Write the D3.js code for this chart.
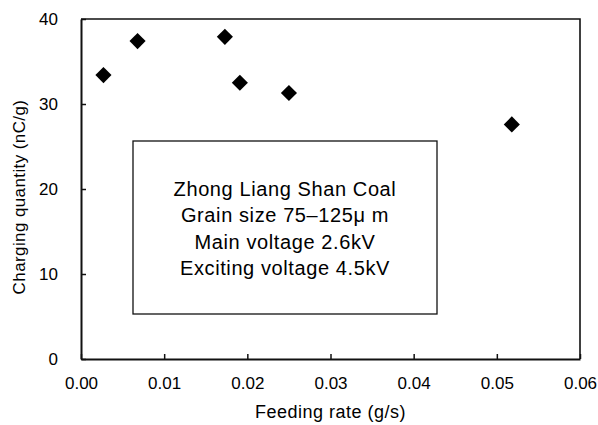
<!DOCTYPE html>
<html>
<head>
<meta charset="utf-8">
<script src="https://cdn.jsdelivr.net/npm/d3@7"></script>
<style>
  html, body { margin: 0; padding: 0; background: #fff; }
  svg { display: block; }
  text { font-family: "Liberation Sans", Arial, sans-serif; fill: #000; }
</style>
</head>
<body>
<svg id="chart" width="598" height="425"></svg>
<script>
// Feeding rate (g/s) vs. charging quantity (nC/g)
const feedingRate = [0.0027, 0.0068, 0.0173, 0.0191, 0.0250, 0.0518];
const chargeQty   = [33.4, 37.4, 37.9, 32.5, 31.3, 27.6];

const xTicks = [0, 0.01, 0.02, 0.03, 0.04, 0.05, 0.06];
const yTicks = [0, 10, 20, 30, 40];

const noteLines = [
  "Zhong Liang Shan Coal",
  "Grain size 75\u2013125\u03bc m",
  "Main voltage 2.6kV",
  "Exciting voltage 4.5kV"
];

const svg = d3.select("#chart");
const plot = { left: 81, right: 580, top: 19, bottom: 359 };

const x = d3.scaleLinear().domain([0, 0.06]).range([plot.left, plot.right]);
const y = d3.scaleLinear().domain([0, 40]).range([plot.bottom, plot.top]);

// frame: top and right edges
svg.append("path")
  .attr("d", `M${plot.left},${plot.top}H${plot.right}V${plot.bottom}`)
  .attr("fill", "none").attr("stroke", "#111").attr("stroke-width", 1.6);

// bottom axis, ticks pointing inward
const xAxis = svg.append("g")
  .attr("transform", `translate(0,${plot.bottom})`)
  .call(d3.axisBottom(x).tickValues(xTicks).tickFormat(d3.format(".2f"))
    .tickSizeInner(-5).tickSizeOuter(0).tickPadding(18));
xAxis.select(".domain").attr("stroke", "#111").attr("stroke-width", 2);
xAxis.selectAll(".tick line").attr("stroke", "#111").attr("stroke-width", 1.5);
xAxis.selectAll(".tick text").attr("font-size", 17).attr("font-family", "Liberation Sans, Arial, sans-serif");

// left axis, ticks pointing inward
const yAxis = svg.append("g")
  .attr("transform", `translate(${plot.left},0)`)
  .call(d3.axisLeft(y).tickValues(yTicks).tickFormat(d3.format("d"))
    .tickSizeInner(-5).tickSizeOuter(0).tickPadding(23));
yAxis.select(".domain").attr("stroke", "#111").attr("stroke-width", 2);
yAxis.selectAll(".tick line").attr("stroke", "#111").attr("stroke-width", 1.5);
yAxis.selectAll(".tick text").attr("font-size", 17).attr("font-family", "Liberation Sans, Arial, sans-serif");

// axis titles
svg.append("text")
  .attr("x", (plot.left + plot.right) / 2).attr("y", 418)
  .attr("text-anchor", "middle").attr("font-size", 18)
  .attr("letter-spacing", 0.5)
  .text("Feeding rate (g/s)");

svg.append("text")
  .attr("transform", "translate(25,197) rotate(-90)")
  .attr("text-anchor", "middle").attr("font-size", 17)
  .attr("letter-spacing", 0.4)
  .text("Charging quantity (nC/g)");

// annotation box
const box = { x0: 133, y0: 141, x1: 437, y1: 314 };
svg.append("rect")
  .attr("x", box.x0).attr("y", box.y0)
  .attr("width", box.x1 - box.x0).attr("height", box.y1 - box.y0)
  .attr("fill", "#fff").attr("stroke", "#111").attr("stroke-width", 1.3);

svg.append("g").selectAll("text").data(noteLines).join("text")
  .attr("x", (box.x0 + box.x1) / 2)
  .attr("y", (d, i) => 196 + i * 26.3)
  .attr("text-anchor", "middle").attr("font-size", 20)
  .attr("letter-spacing", 0.6)
  .text(d => d);

// data markers: filled diamonds
const diamond = d3.symbol().type(d3.symbolSquare).size(130);
svg.append("g").selectAll("path").data(feedingRate).join("path")
  .attr("d", diamond)
  .attr("transform", (d, i) => `translate(${x(d)},${y(chargeQty[i])}) rotate(45)`)
  .attr("fill", "#000");
</script>
</body>
</html>
